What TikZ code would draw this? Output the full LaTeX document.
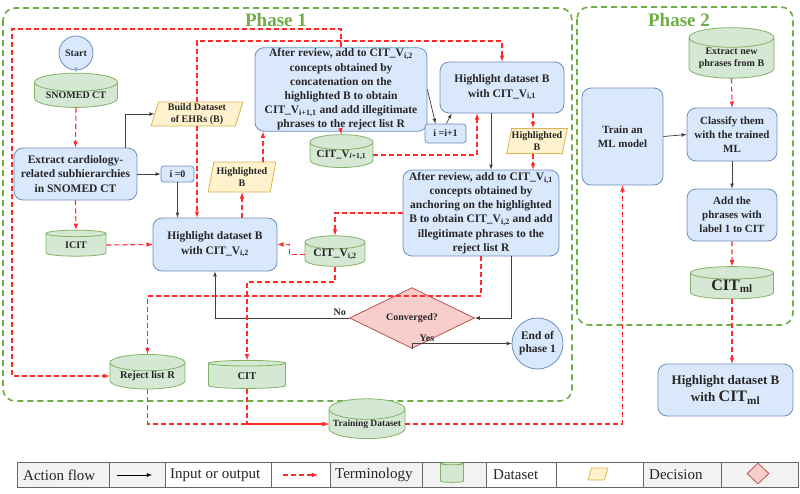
\documentclass[tikz,border=0pt]{standalone}
\usepackage{fontspec}
\setmainfont{Liberation Serif}
\usetikzlibrary{shapes.geometric, positioning, arrows, calc}

\definecolor{boxfill}{HTML}{DAE8FC}
\definecolor{boxline}{HTML}{6C8EBF}
\definecolor{dbfill}{HTML}{D5E8D4}
\definecolor{dbline}{HTML}{82B366}
\definecolor{iofill}{HTML}{FFF2CC}
\definecolor{ioline}{HTML}{D6B656}
\definecolor{decfill}{HTML}{F8CECC}
\definecolor{decline}{HTML}{B85450}
\definecolor{termred}{HTML}{FF2A2A}
\definecolor{phasegreen}{HTML}{70AD47}
\definecolor{legendgray}{HTML}{F2F2F2}

\begin{document}
\begin{tikzpicture}
    [
        x=1pt, y=-1pt,
        every node/.style={font=\bfseries\fontsize{10}{12}\selectfont, align=center, text=black!85},
        box/.style={rectangle, rounded corners=9pt, draw=boxline, fill=boxfill, line width=0.8pt, inner sep=1pt, font=\bfseries\fontsize{11.5}{14.2}\selectfont},
        smallbox/.style={rectangle, rounded corners=3pt, draw=boxline, fill=boxfill, line width=0.8pt, inner sep=1pt},
        terminal/.style={circle, draw=boxline, fill=boxfill, line width=0.8pt, inner sep=0pt},
        db/.style={cylinder, shape border rotate=90, aspect=0.3, draw=dbline, fill=dbfill, line width=0.8pt, inner sep=0pt},
        io/.style={trapezium, trapezium left angle=75, trapezium right angle=105, trapezium stretches=true, draw=ioline, fill=iofill, line width=0.8pt, inner sep=0pt},
        decision/.style={diamond, draw=decline, fill=decfill, line width=0.8pt, inner sep=0pt},
        flow/.style={-latex, line width=0.75pt, draw=black!75},
        term/.style={-latex, line width=1.1pt, draw=termred, dash pattern=on 5pt off 3pt},
        phase/.style={draw=phasegreen, line width=1.6pt, dash pattern=on 6pt off 4pt, rounded corners=12pt},
        legendtext/.style={anchor=west, inner sep=0pt, font=\fontsize{15}{16}\selectfont},
    ]
    \useasboundingbox (0,0) rectangle (800,493);

    \draw[phase] (3,8) rectangle (572,401);
    \draw[phase] (577,7) rectangle (793,325);
    \node[text=phasegreen, font=\bfseries\fontsize{19}{20}\selectfont] (phaseone) at (276,20) {Phase 1};
    \node[text=phasegreen, font=\bfseries\fontsize{19}{20}\selectfont] (phasetwo) at (679,20) {Phase 2};

    \node[terminal, minimum size=34pt] (start) at (76,53) {Start};
    \node[db, minimum width=83pt, minimum height=26pt] (snomed) at (76,95) {SNOMED CT};
    \node[box, minimum width=123pt, minimum height=52pt] (extract) at (75.5,174) {Extract cardiology-\\related subhierarchies\\in SNOMED CT};
    \node[io, minimum width=92pt, minimum height=24pt] (build) at (197,114) {Build Dataset\\of EHRs (B)};
    \node[smallbox, minimum width=33pt, minimum height=16pt] (izero) at (177.5,174) {i =0};
    \node[db, minimum width=60pt, minimum height=26pt] (icit) at (76,245) {ICIT};
    \node[box, minimum width=124pt, minimum height=53pt] (hltwo) at (215,244.5) {Highlight dataset B\\with CIT\_V\textsubscript{i,2}};
    \node[io, minimum width=68pt, minimum height=30pt] (hlbone) at (242,177) {Highlighted\\B};
    \node[box, minimum width=172pt, minimum height=83pt] (revtwo) at (341,89.5) {After review, add to CIT\_V\textsubscript{i,2}\\concepts obtained by\\concatenation on the\\highlighted B to obtain\\CIT\_V\textsubscript{i+1,1} and add illegitimate\\phrases to the reject list R};
    \node[db, font=\bfseries\fontsize{11}{13}\selectfont, minimum width=63pt, minimum height=24pt] (citnext) at (341.5,155) {CIT\_V\textsubscript{\textit{i}+1,1}};
    \node[smallbox, minimum width=41pt, minimum height=19pt] (iinc) at (445.5,133.5) {i =i+1};
    \node[box, minimum width=124pt, minimum height=51pt] (hlone) at (502,87.5) {Highlight dataset B\\with CIT\_V\textsubscript{i,1}};
    \node[io, minimum width=59pt, minimum height=25pt] (hlbtwo) at (537,141) {Highlighted\\B};
    \node[box, minimum width=156pt, minimum height=86pt] (revone) at (481,213) {After review, add to CIT\_V\textsubscript{i,1}\\concepts obtained by\\anchoring on the highlighted\\B to obtain CIT\_V\textsubscript{i,2} and add\\illegitimate phrases to the\\reject list R};
    \node[db, font=\bfseries\fontsize{11.5}{13}\selectfont, minimum width=60pt, minimum height=25pt] (citvtwo) at (335,254.5) {CIT\_V\textsubscript{i,2}};
    \node[decision, minimum width=125pt, minimum height=28pt] (conv) at (412,318) {Converged?};
    \node[terminal, minimum size=51pt, font=\bfseries\fontsize{11.5}{13}\selectfont] (endp) at (537.5,343.5) {End of\\phase 1};
    \node[db, font=\bfseries\fontsize{10.5}{12}\selectfont, minimum width=75pt, minimum height=32pt] (reject) at (147.5,376) {Reject list R};
    \node[db, font=\bfseries\fontsize{10.5}{12}\selectfont, minimum width=77pt, minimum height=28pt] (cit) at (247,376) {CIT};
    \node[db, font=\bfseries\fontsize{9.5}{11}\selectfont, minimum width=76pt, minimum height=28pt] (train) at (367,424) {Training Dataset};

    \node[box, font=\bfseries\fontsize{11}{14}\selectfont, minimum width=81pt, minimum height=97pt] (mlmodel) at (622.5,136.5) {Train an\\ML model};
    \node[db, minimum width=85pt, minimum height=42pt] (extractnew) at (731.5,58) {Extract new\\phrases from B};
    \node[box, font=\bfseries\fontsize{11}{14}\selectfont, minimum width=90pt, minimum height=53pt] (classify) at (732,134.5) {Classify them\\with the trained\\ML};
    \node[box, font=\bfseries\fontsize{11}{14}\selectfont, minimum width=90pt, minimum height=52pt] (addcit) at (732,215) {Add the\\phrases with\\label 1 to CIT};
    \node[db, minimum width=83pt, minimum height=29pt] (citml) at (732,286) {\fontsize{16}{18}\selectfont CIT\textsubscript{ml}};
    \node[box, font=\bfseries\fontsize{13}{17}\selectfont, minimum width=135pt, minimum height=52pt] (hlml) at (725.5,390) {Highlight dataset B\\with {\fontsize{16}{17}\selectfont CIT\textsubscript{ml}}};

    \draw[-latex, line width=0.75pt, draw=boxline!70] (start) -- (snomed);
    \draw[flow] ([xshift=49.5pt]extract.north) |- (build.west);
    \draw[flow] (extract.east) -- (izero.west);
    \draw[flow] (izero.south) -- (izero.south |- hltwo.north);
    \draw[flow] (revtwo.east) -- ([xshift=-10pt]iinc.north);
    \draw[flow] ([xshift=1pt]iinc.north) -- ([xshift=12pt]hlone.south west);
    \draw[flow] ([xshift=-11pt]hlone.south) -- ([xshift=-11pt]hlone.south |- revone.north);
    \draw[flow] ([xshift=30pt]revone.south) |- (conv.east);
    \draw[flow] (conv.west) -| node[pos=0.035, above, inner sep=2pt] {No} (hltwo.south);
    \draw[flow] (conv.south) |- node[pos=0.575, above, inner sep=1.5pt] {Yes} (endp.west);
    \draw[flow] (mlmodel.east) -- (classify.west);
    \draw[flow] (classify.south) -- (addcit.north);

    \draw[term] (snomed.south) -- (extract.north);
    \draw[term] (extract.south) -- (icit.north);
    \draw[term] (icit.east) -- (hltwo.west);
    \draw[term] (build.south) -- (build.south |- hltwo.north);
    \draw[term] (build.north) |- (hlone.north |- 0,41) -- (hlone.north);
    \draw[term] (revtwo.north) |- (12,29) |- (reject.west);
    \draw[term] (hlbone.south |- hltwo.north) -- (hlbone.south);
    \draw[term] ([xshift=21pt]hlbone.north) -- ([xshift=21pt]hlbone.north |- revtwo.south);
    \draw[term] (revtwo.south) -- (citnext.north);
    \draw[term] (citnext.east) -| ([xshift=-25pt]hlone.south);
    \draw[term] ([xshift=-4pt]hlbtwo.north |- hlone.south) -- ([xshift=-4pt]hlbtwo.north);
    \draw[term] ([xshift=-4pt]hlbtwo.south) -- ([xshift=-4pt]hlbtwo.south |- revone.north);
    \draw[term] (revone.west) -| (citvtwo.north);
    \draw[term] (citvtwo.west) -- ++(-15,0) |- (hltwo.east);
    \draw[term] (citvtwo.south) |- (cit.north |- 0,282) -- (cit.north);
    \draw[term] (revone.south) |- (reject.north |- 0,296) -- (reject.north);
    \draw[term] (reject.south) |- (train.west);
    \draw[term] (cit.south) |- (train.west);
    \draw[term] (train.east) -| (mlmodel.south);
    \draw[term] (extractnew.south) -- (classify.north);
    \draw[term] (addcit.south) -- (citml.north);
    \draw[term] (citml.south) -- (citml.south |- hlml.north);

    \foreach \xa/\xb/\cellfill in {17/109/legendgray, 109/165/legendgray, 165/271/white, 271/330/white, 330/422/legendgray, 422/486/legendgray, 486/556/white, 556/643/white, 643/721/legendgray, 721/798/legendgray}
        \draw[draw=black!60, line width=1pt, fill=\cellfill] (\xa,462) rectangle (\xb,487);
    \node[legendtext] (lgaction) at (23,475) {Action flow};
    \node[legendtext] (lginout) at (170,475) {Input or output};
    \node[legendtext] (lgterm) at (335,475) {Terminology};
    \node[legendtext] (lgdata) at (493,475) {Dataset};
    \node[legendtext] (lgdec) at (649,475) {Decision};
    \draw[flow, draw=black] (117,475) -- (152,475);
    \draw[term] (283,475) -- (318,475);
    \node[db, inner sep=2pt, aspect=0.6, minimum width=23pt, minimum height=20pt] (lgdb) at (452,473.5) {};
    \node[io, inner sep=2pt, minimum width=20pt, minimum height=12pt] (lgio) at (598,474) {};
    \node[decision, inner sep=2pt, minimum width=22pt, minimum height=21pt] (lgdiamond) at (758,473.5) {};
\end{tikzpicture}
\end{document}
